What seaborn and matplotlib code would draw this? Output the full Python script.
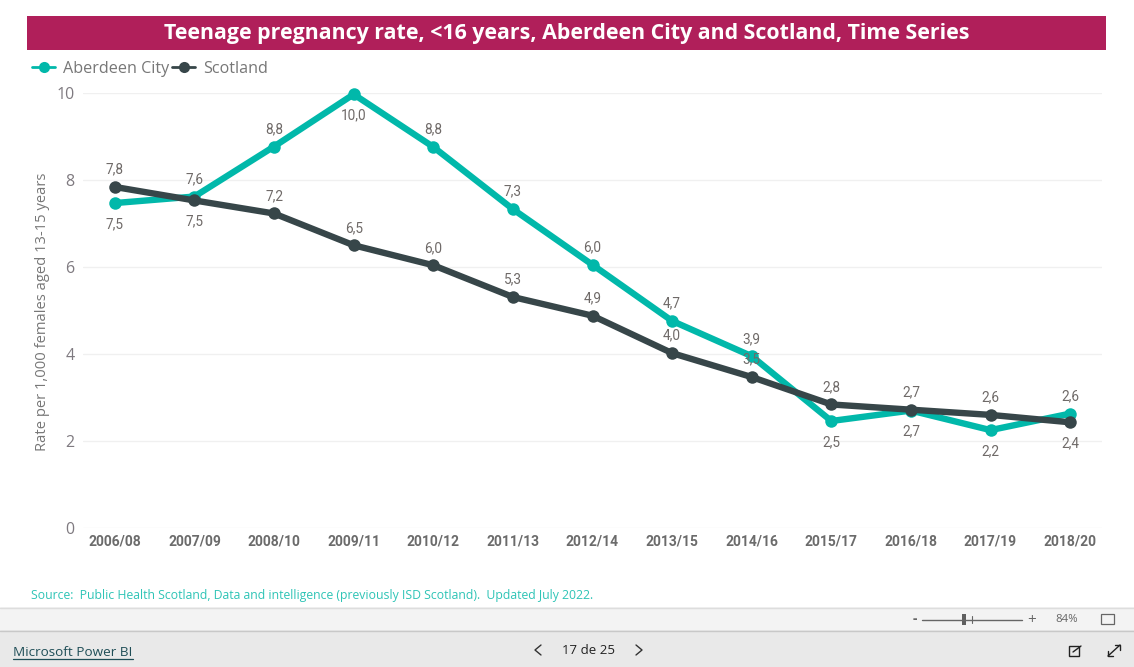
import matplotlib
matplotlib.use("Agg")
import matplotlib.pyplot as plt
from matplotlib.patches import Rectangle
import pandas as pd
import seaborn as sns

W, H = 1134, 667

periods = ["2006/08", "2007/09", "2008/10", "2009/11", "2010/12", "2011/13", "2012/14",
           "2013/15", "2014/16", "2015/17", "2016/18", "2017/19", "2018/20"]
aberdeen = [7.47, 7.62, 8.77, 9.97, 8.76, 7.33, 6.05, 4.76, 3.95, 2.46, 2.70, 2.25, 2.63]
scotland = [7.84, 7.53, 7.23, 6.50, 6.04, 5.31, 4.88, 4.02, 3.47, 2.84, 2.72, 2.60, 2.43]
aberdeen_labels = ["7,5", "7,6", "8,8", "10,0", "8,8", "7,3", "6,0", "4,7", "3,9", "2,5", "2,7", "2,2", "2,6"]
scotland_labels = ["7,8", "7,5", "7,2", "6,5", "6,0", "5,3", "4,9", "4,0", "3,5", "2,8", "2,7", "2,6", "2,4"]
# +1 label above the point, -1 below
aberdeen_side = [-1, 1, 1, -1, 1, 1, 1, 1, 1, -1, -1, -1, 1]
scotland_side = [1, -1, 1, 1, 1, 1, 1, 1, 1, 1, 1, 1, -1]
yticks = [0, 2, 4, 6, 8, 10]

TEAL = "#01B8AA"
DARK = "#374649"
GREY = "#777777"
FONT = "Open Sans"
LABEL_FONT = "Roboto"

sns.set_theme(style="white")
plt.rcParams["font.family"] = [FONT, "DejaVu Sans"]

df = pd.DataFrame({
    "period": periods * 2,
    "rate": aberdeen + scotland,
    "area": ["Aberdeen City"] * len(periods) + ["Scotland"] * len(periods),
})

fig = plt.figure(figsize=(W / 100, H / 100), dpi=100, facecolor="white")


def fx(x):
    return x / W


def fy(y):
    return 1 - y / H


def band(x0, y0, x1, y1, color):
    fig.add_artist(Rectangle((fx(x0), fy(y1)), (x1 - x0) / W, (y1 - y0) / H,
                             transform=fig.transFigure, facecolor=color, edgecolor="none"))


def hline(x0, x1, y, color, lw=1.0):
    fig.add_artist(plt.Line2D([fx(x0), fx(x1)], [fy(y), fy(y)], color=color, lw=lw))


def vline(x, y0, y1, color, lw=1.0):
    fig.add_artist(plt.Line2D([fx(x), fx(x)], [fy(y0), fy(y1)], color=color, lw=lw))


# plot area: y 0 at 528px, y 10 at 93px
ax = fig.add_axes([fx(83), fy(528), (1102 - 83) / W, (528 - 93) / H])
sns.lineplot(data=df, x="period", y="rate", hue="area", palette=[TEAL, DARK], sort=False,
             marker="o", markersize=9, markeredgewidth=0, linewidth=4.6, ax=ax, clip_on=False)
ax.set_xlim(-0.4, 12.4)
ax.set_ylim(0, 10)
ax.set_yticks(yticks)
ax.set_xlabel("")
ax.set_ylabel("Rate per 1,000 females aged 13-15 years", color=GREY, fontsize=10.6)
ax.yaxis.set_label_coords(-0.0325, 0.497)
ax.grid(axis="y", color="#F0F0F0", lw=1)
ax.set_axisbelow(True)
sns.despine(ax=ax, left=True, bottom=True)
ax.tick_params(axis="y", length=0, labelsize=11.5, labelcolor="#7F7A80", pad=6)
ax.tick_params(axis="x", length=0, labelsize=10, labelcolor="#6B6B6B", pad=5)
for t in ax.get_xticklabels():
    t.set_fontfamily(LABEL_FONT)
    t.set_fontweight("bold")

for vals, labs, sides in [(aberdeen, aberdeen_labels, aberdeen_side),
                          (scotland, scotland_labels, scotland_side)]:
    for i, (v, lab, s) in enumerate(zip(vals, labs, sides)):
        ax.annotate(lab, (i, v), xytext=(0, 12.5 if s > 0 else -15), textcoords="offset points",
                    ha="center", va="center", fontsize=9.8, color="#6F6A68",
                    family=LABEL_FONT, zorder=5)

handles, labels = ax.get_legend_handles_labels()
leg = ax.legend(handles, labels, loc="lower left", bbox_to_anchor=(fx(32), fy(77)),
                bbox_transform=fig.transFigure, ncol=2, frameon=False, fontsize=11.6,
                labelcolor=GREY, handlelength=1.45, handletextpad=0.5, columnspacing=0.15,
                borderpad=0, borderaxespad=0)
for h in leg.get_lines():
    h.set_linewidth(2)
    h.set_markersize(8)

# title band
band(27, 16, 1106, 50, "#B01F5A")
fig.text(fx(566.5), fy(34), "Teenage pregnancy rate, <16 years, Aberdeen City and Scotland, Time Series",
         ha="center", va="center", color="white", fontsize=15.4, fontweight="bold")

fig.text(fx(31), fy(596), "Source:  Public Health Scotland, Data and intelligence (previously ISD Scotland).  Updated July 2022.",
         ha="left", va="center", color="#2EC4B6", fontsize=8.8)

# Power BI footer
band(0, 607, W, 630, "#F3F3F3")
band(0, 630, W, H, "#E9E9E9")
hline(0, W, 607.5, "#DDDDDD")
hline(0, W, 630.5, "#C8C8C8")

fig.text(fx(913), fy(619), "-", ha="left", va="center", fontsize=10, color="#666666", fontweight="bold")
hline(922, 1022, 619.5, "#666666")
band(962, 614, 966, 625, "#5F5F5F")
vline(972, 616, 623, "#666666", 0.8)
fig.text(fx(1032), fy(620), "+", ha="center", va="center", fontsize=11, color="#666666")
fig.text(fx(1067), fy(620), "84%", ha="center", va="center", fontsize=8.2, color="#666666")
fig.add_artist(Rectangle((fx(1101), fy(624)), 13 / W, 10 / H, transform=fig.transFigure,
                         facecolor="none", edgecolor="#666666", lw=0.9))

fig.text(fx(13), fy(652), "Microsoft Power BI", ha="left", va="center", fontsize=9.7, color="#1F4E57")
hline(13, 133, 659, "#1F4E57", 0.9)
fig.text(fx(588), fy(651), "17 de 25", ha="center", va="center", fontsize=9.5, color="#222222")
for x0, x1 in [(541, 535), (636, 642)]:
    fig.add_artist(plt.Line2D([fx(x0), fx(x1), fx(x0)], [fy(645), fy(650), fy(655)], color="#333333", lw=1))

# share and expand icons
fig.add_artist(Rectangle((fx(1069), fy(656)), 10 / W, 10 / H, transform=fig.transFigure,
                         facecolor="none", edgecolor="#222222", lw=1))
fig.add_artist(plt.Line2D([fx(1073), fx(1081)], [fy(652), fy(646)], color="#222222", lw=1))
fig.add_artist(plt.Line2D([fx(1108), fx(1120)], [fy(656), fy(645)], color="#222222", lw=1))
fig.add_artist(plt.Line2D([fx(1108), fx(1108), fx(1113)], [fy(651), fy(656), fy(656)], color="#222222", lw=1))
fig.add_artist(plt.Line2D([fx(1115), fx(1120), fx(1120)], [fy(645), fy(645), fy(650)], color="#222222", lw=1))

fig.savefig("out.png", dpi=100, facecolor="white")
